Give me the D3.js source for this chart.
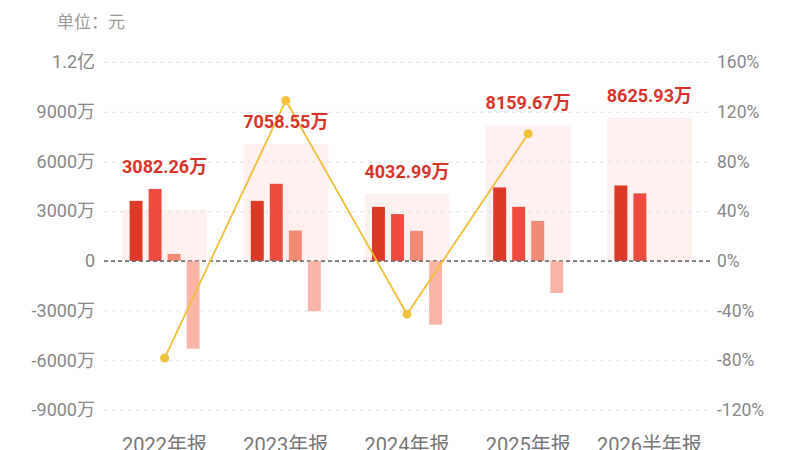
<!DOCTYPE html>
<html>
<head>
<meta charset="utf-8">
<script src="https://cdn.jsdelivr.net/npm/d3@7"></script>
<style>
  body { margin: 0; background: #fff; }
  svg { display: block; font-family: Roboto, "Noto Sans CJK SC", sans-serif; }
</style>
</head>
<body>
<svg id="chart" width="800" height="450"></svg>
<script>
// categories and series (unit: 万元, growth in %)
var categories = ["2022年报", "2023年报", "2024年报", "2025年报", "2026半年报"];
var totals = [3082.26, 7058.55, 4032.99, 8159.67, 8625.93];
var series1 = [3620, 3620, 3260, 4430, 4550];
var series2 = [4340, 4650, 2820, 3260, 4070];
var series3 = [420, 1830, 1810, 2410, null];
var series4 = [-5300, -3040, -3850, -1940, null];
var growth = [-78.2, 129.0, -42.9, 102.3, null];

var leftTicks = [-9000, -6000, -3000, 0, 3000, 6000, 9000, 12000];
var rightTicks = [-120, -80, -40, 0, 40, 80, 120, 160];
var barColors = ["#dc3a26", "#ec4b3d", "#f28b74", "#fbb5a7"];

var svg = d3.select("#chart");
// note: "top" is reserved on window, so use plot* names
var plotLeft = 104, plotRight = 710, plotTop = 62, plotBottom = 410;

var x0 = d3.scaleBand()
	.domain(categories)
	.range([plotLeft, plotRight])
	.paddingInner(0.3)
	.paddingOuter(0.15);

var x1 = d3.scaleBand()
	.domain([0, 1, 2, 3])
	.range([0, x0.bandwidth()])
	.paddingInner(0.32)
	.paddingOuter(0.39);

var yL = d3.scaleLinear().domain([-9000, 12000]).range([plotBottom, plotTop]);
var yR = d3.scaleLinear().domain([-120, 160]).range([plotBottom, plotTop]);

// unit label
svg.append("text")
	.attr("x", 57)
	.attr("y", 24)
	.attr("dominant-baseline", "middle")
	.attr("fill", "#999")
	.style("font-size", "17px")
	.text("单位：元");

// background total rects (translucent so grid shows through)
svg.append("g").selectAll("rect")
	.data(categories)
	.enter()
	.append("rect")
	.attr("x", function(d) { return x0(d); })
	.attr("y", function(d, i) { return yL(totals[i]); })
	.attr("width", x0.bandwidth())
	.attr("height", function(d, i) { return yL(0) - yL(totals[i]); })
	.attr("fill", "#f5523c")
	.attr("fill-opacity", 0.08);

// left axis + grid
var gl = svg.append("g")
	.attr("transform", "translate(" + plotLeft + ",0)")
	.call(d3.axisLeft(yL)
		.tickValues(leftTicks)
		.tickSize(-(plotRight - plotLeft))
		.tickPadding(9)
		.tickFormat(function(d) {
			if (d === 0) return "0";
			if (Math.abs(d) >= 10000) return (d / 10000) + "亿";
			return d + "万";
		}));
gl.select(".domain").remove();
gl.selectAll(".tick line")
	.attr("stroke", function(d) { return d === 0 ? "#666" : "#e2e2e2"; })
	.attr("stroke-dasharray", function(d) { return d === 0 ? "4,3" : "4,4"; });
gl.selectAll(".tick text")
	.attr("fill", "#888")
	.style("font-size", "18px")
	.style("font-family", "Roboto, 'Noto Sans CJK SC', sans-serif");

// right axis
var gr = svg.append("g")
	.attr("transform", "translate(" + plotRight + ",0)")
	.call(d3.axisRight(yR)
		.tickValues(rightTicks)
		.tickSize(0)
		.tickPadding(7)
		.tickFormat(function(d) { return d + "%"; }));
gr.select(".domain").remove();
gr.selectAll(".tick text")
	.attr("fill", "#888")
	.style("font-size", "17.5px")
	.style("font-family", "Roboto, sans-serif");

// grouped bars
var allSeries = [series1, series2, series3, series4];
var groups = svg.append("g").selectAll("g")
	.data(categories)
	.enter()
	.append("g")
	.attr("transform", function(d) { return "translate(" + x0(d) + ",0)"; });

groups.selectAll("rect")
	.data(function(d, i) {
		return allSeries.map(function(s, k) { return {k: k, v: s[i]}; })
			.filter(function(e) { return e.v !== null; });
	})
	.enter()
	.append("rect")
	.attr("x", function(d) { return x1(d.k); })
	.attr("y", function(d) { return yL(Math.max(0, d.v)); })
	.attr("width", x1.bandwidth())
	.attr("height", function(d) { return Math.abs(yL(d.v) - yL(0)); })
	.attr("fill", function(d) { return barColors[d.k]; });

// zero line on top
svg.append("line")
	.attr("x1", plotLeft).attr("x2", plotRight)
	.attr("y1", yL(0)).attr("y2", yL(0))
	.attr("stroke", "#666")
	.attr("stroke-dasharray", "4,3");

// growth line
var pts = categories.map(function(c, i) { return {c: c, v: growth[i]}; })
	.filter(function(d) { return d.v !== null; });
var line = d3.line()
	.x(function(d) { return x0(d.c) + x0.bandwidth() / 2; })
	.y(function(d) { return yR(d.v); });
svg.append("path")
	.datum(pts)
	.attr("d", line)
	.attr("fill", "none")
	.attr("stroke", "#f0bf3a")
	.attr("stroke-width", 1.8);
svg.append("g").selectAll("circle")
	.data(pts)
	.enter()
	.append("circle")
	.attr("cx", function(d) { return x0(d.c) + x0.bandwidth() / 2; })
	.attr("cy", function(d) { return yR(d.v); })
	.attr("r", 4.5)
	.attr("fill", "#f0c23e");

// total value labels
svg.append("g").selectAll("text")
	.data(categories)
	.enter()
	.append("text")
	.attr("x", function(d) { return x0(d) + x0.bandwidth() / 2; })
	.attr("y", function(d, i) {
		var m = Math.max(totals[i], series1[i] || 0, series2[i] || 0, series3[i] || 0);
		return yL(m) - 21;
	})
	.attr("text-anchor", "middle")
	.attr("dominant-baseline", "middle")
	.attr("fill", "#d9342a")
	.style("font-size", "18px")
	.style("font-weight", "bold")
	.text(function(d, i) { return totals[i].toFixed(2) + "万"; });

// x labels
svg.append("g").selectAll("text")
	.data(categories)
	.enter()
	.append("text")
	.attr("x", function(d) { return x0(d) + x0.bandwidth() / 2; })
	.attr("y", 452)
	.attr("text-anchor", "middle")
	.attr("fill", "#777")
	.style("font-size", "20px")
	.text(function(d) { return d; });
</script>
</body>
</html>
